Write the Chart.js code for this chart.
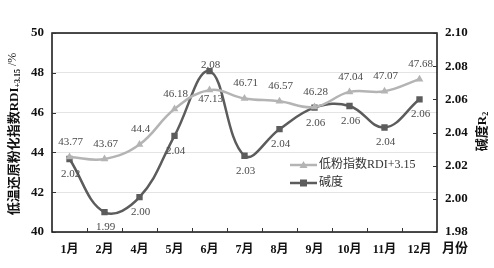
<!DOCTYPE html>
<html>
<head>
<meta charset="utf-8">
<script src="https://cdn.jsdelivr.net/npm/chart.js@4.4.1/dist/chart.umd.min.js"></script>
<style>
html,body{margin:0;padding:0;background:#fff;}
#wrap{width:494px;height:268px;position:relative;}
</style>
</head>
<body>
<div id="wrap"><canvas id="c" width="494" height="268"></canvas></div>
<script>
const months = ['1月','2月','4月','5月','6月','7月','8月','9月','10月','11月','12月'];
const rdiValues = [43.77, 43.67, 44.4, 46.18, 47.13, 46.71, 46.57, 46.28, 47.04, 47.07, 47.68];
const rdiLabels = ['43.77','43.67','44.4','46.18','47.13','46.71','46.57','46.28','47.04','47.07','47.68'];
const basicityValues = [2.024, 1.992, 2.001, 2.038, 2.077, 2.026, 2.042, 2.055, 2.056, 2.043, 2.060];
const basicityLabels = ['2.02','1.99','2.00','2.04','2.08','2.03','2.04','2.06','2.06','2.04','2.06'];
const leftTicks = [40, 42, 44, 46, 48, 50];
const rightTicks = [1.98, 2.00, 2.02, 2.04, 2.06, 2.08, 2.10];

const SERIF = '"Liberation Serif", "Times New Roman", "Noto Sans CJK SC", serif';
const LIGHT = '#b4b4b4';
const DARK = '#5c5c5c';

// label placement style: dy offsets relative to point
const rdiLabelDy = i => (i === 4 ? 9 : -15);
const basLabelDy = i => (i === 4 ? -6 : 15);

const overlay = {
  id: 'overlay',
  afterDatasetsDraw(chart) {
    const ctx = chart.ctx;
    const ca = chart.chartArea;
    const xs = chart.scales.x, yl = chart.scales.y, yr = chart.scales.y1;
    ctx.save();
    // frame
    ctx.strokeStyle = '#111';
    ctx.lineWidth = 1.5;
    ctx.strokeRect(ca.left, ca.top, ca.right - ca.left, ca.bottom - ca.top);
    // inner ticks
    ctx.lineWidth = 1;
    ctx.strokeStyle = '#333';
    ctx.beginPath();
    for (let i = 0; i < months.length - 1; i++) {
      const x = Math.round((xs.getPixelForValue(i) + xs.getPixelForValue(i + 1)) / 2) + 0.5;
      ctx.moveTo(x, ca.bottom); ctx.lineTo(x, ca.bottom - 4);
    }
    leftTicks.forEach(v => { const y = Math.round(yl.getPixelForValue(v)) + 0.5; ctx.moveTo(ca.left, y); ctx.lineTo(ca.left + 4, y); });
    rightTicks.forEach(v => { const y = Math.round(yr.getPixelForValue(v)) + 0.5; ctx.moveTo(ca.right, y); ctx.lineTo(ca.right - 4, y); });
    ctx.stroke();

    // data labels
    ctx.font = '11px ' + SERIF;
    ctx.fillStyle = '#4a4a4a';
    ctx.textAlign = 'center';
    ctx.textBaseline = 'middle';
    chart.getDatasetMeta(0).data.forEach((p, i) => {
      ctx.fillText(rdiLabels[i], p.x + 1, p.y + rdiLabelDy(i));
    });
    chart.getDatasetMeta(1).data.forEach((p, i) => {
      ctx.fillText(basicityLabels[i], p.x + 1, p.y + basLabelDy(i));
    });

    // legend
    const lx = 290, lw = 27;
    const items = [
      {y: 165, color: LIGHT, style: 'triangle', text: '低粉指数RDI+3.15'},
      {y: 183, color: DARK, style: 'rect', text: '碱度'}
    ];
    items.forEach(it => {
      ctx.strokeStyle = it.color; ctx.lineWidth = 2.5;
      ctx.beginPath(); ctx.moveTo(lx, it.y); ctx.lineTo(lx + lw, it.y); ctx.stroke();
      ctx.fillStyle = it.color;
      const cx = lx + lw / 2;
      if (it.style === 'triangle') {
        ctx.beginPath(); ctx.moveTo(cx, it.y - 4); ctx.lineTo(cx + 4, it.y + 3); ctx.lineTo(cx - 4, it.y + 3); ctx.closePath(); ctx.fill();
      } else {
        ctx.fillRect(cx - 3.5, it.y - 3.5, 7, 7);
      }
      ctx.fillStyle = '#333';
      ctx.textAlign = 'left';
      ctx.font = '12px ' + SERIF;
      ctx.fillText(it.text, lx + lw + 2, it.y);
    });

    // axis titles
    ctx.fillStyle = '#111';
    // left title rotated
    ctx.save();
    ctx.translate(15, 134);
    ctx.rotate(-Math.PI / 2);
    ctx.textBaseline = 'middle';
    const main = '低温还原粉化指数RDI';
    const sub = '+3.15';
    const tail = ' /%';
    ctx.font = 'bold 13px ' + SERIF;
    const w1 = ctx.measureText(main).width;
    ctx.font = 'bold 8px ' + SERIF;
    const w2 = ctx.measureText(sub).width;
    ctx.font = '12px ' + SERIF;
    const w3 = ctx.measureText(tail).width;
    let sx = -(w1 + w2 + w3) / 2;
    ctx.textAlign = 'left';
    ctx.font = 'bold 13px ' + SERIF; ctx.fillText(main, sx, 0); sx += w1;
    ctx.font = 'bold 8px ' + SERIF; ctx.fillText(sub, sx, 3); sx += w2;
    ctx.font = '12px ' + SERIF; ctx.fillText(tail, sx, -2);
    ctx.restore();
    // right title
    ctx.save();
    ctx.translate(483, 131);
    ctx.rotate(-Math.PI / 2);
    ctx.textBaseline = 'middle';
    ctx.font = 'bold 13px ' + SERIF;
    const r1 = '碱度R';
    const rw = ctx.measureText(r1).width;
    ctx.textAlign = 'left';
    ctx.fillText(r1, -(rw + 5) / 2, 0);
    ctx.font = 'bold 8px ' + SERIF;
    ctx.fillText('2', -(rw + 5) / 2 + rw, 3);
    ctx.restore();
    // x title
    ctx.font = 'bold 13px ' + SERIF;
    ctx.textAlign = 'center';
    ctx.fillText('月份', 455, 249);
    ctx.restore();
  }
};

new Chart(document.getElementById('c'), {
  type: 'line',
  data: {
    labels: months,
    datasets: [
      {
        label: '低粉指数RDI+3.15', data: rdiValues, yAxisID: 'y',
        borderColor: LIGHT, backgroundColor: LIGHT, borderWidth: 2.5,
        pointStyle: 'triangle', pointRadius: 4.5, pointBorderWidth: 0, tension: 0.4
      },
      {
        label: '碱度', data: basicityValues, yAxisID: 'y1',
        borderColor: DARK, backgroundColor: DARK, borderWidth: 2.5,
        pointStyle: 'rect', pointRadius: 4.5, pointBorderWidth: 0, tension: 0.4
      }
    ]
  },
  options: {
    responsive: false,
    animation: false,
    devicePixelRatio: 1,
    layout: {padding: {top: 33, left: 0, right: 0, bottom: 0}},
    plugins: {legend: {display: false}, tooltip: {enabled: false}},
    scales: {
      x: {
        type: 'category', offset: true,
        grid: {display: false, drawTicks: false},
        border: {display: false},
        ticks: {font: {family: SERIF, size: 12, weight: 'bold'}, color: '#111', padding: 11, maxRotation: 0, autoSkip: false},
        afterFit(s) { s.height = 36; }
      },
      y: {
        position: 'left', min: 40, max: 50,
        afterBuildTicks(s) { s.ticks = leftTicks.map(v => ({value: v})); },
        grid: {color: '#e4e4e4', drawTicks: false, lineWidth: 1},
        border: {display: false},
        ticks: {font: {family: SERIF, size: 13, weight: 'bold'}, color: '#111', padding: 8},
        afterFit(s) { s.width = 52; }
      },
      y1: {
        position: 'right', min: 1.98, max: 2.10,
        afterBuildTicks(s) { s.ticks = rightTicks.map(v => ({value: v})); },
        grid: {display: false, drawTicks: false},
        border: {display: false},
        ticks: {font: {family: SERIF, size: 13, weight: 'bold'}, color: '#111', padding: 8, callback: v => Number(v).toFixed(2)},
        afterFit(s) { s.width = 57; }
      }
    }
  },
  plugins: [overlay]
});
</script>
</body>
</html>
